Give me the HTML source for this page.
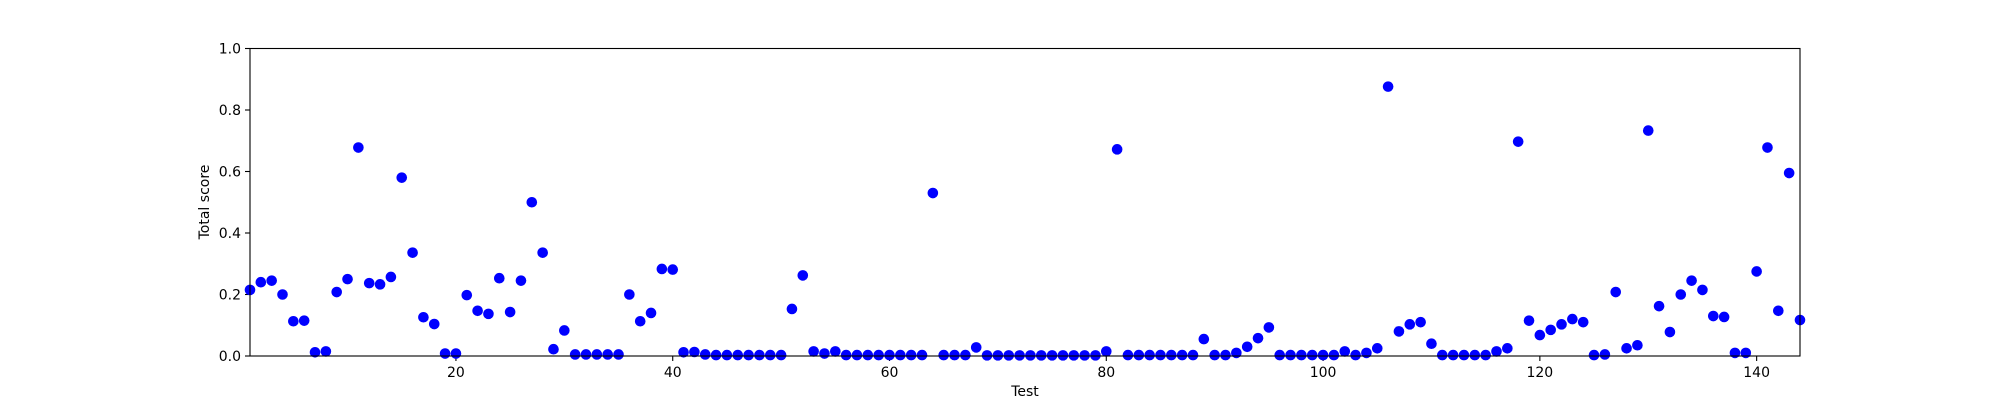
<!DOCTYPE html>
<html><head><meta charset="utf-8"><style>
body{margin:0;background:#fff}
svg{display:block;font-family:"DejaVu Sans","Liberation Sans",sans-serif}
</style></head><body>
<svg id="chart" width="2000" height="400" viewBox="0 0 2000 400">
<rect width="2000" height="400" fill="#fff"/>
<g id="ticks"></g>
<g id="points"></g>
<rect x="250" y="48.5" width="1550" height="307.5" fill="none" stroke="#000" stroke-width="1.1"/>
<text x="1025" y="396" font-size="14" text-anchor="middle">Test</text>
<text transform="translate(209,202) rotate(-90)" font-size="14" text-anchor="middle">Total score</text>
</svg>
<script>
const scores = [0.215,0.24,0.245,0.20,0.113,0.115,0.012,0.015,0.208,0.25,
0.678,0.237,0.233,0.257,0.58,0.336,0.126,0.104,0.008,0.008,
0.198,0.147,0.137,0.253,0.143,0.245,0.5,0.336,0.022,0.083,
0.005,0.005,0.005,0.005,0.005,0.2,0.113,0.14,0.283,0.281,
0.012,0.013,0.005,0.003,0.003,0.003,0.003,0.003,0.003,0.003,
0.153,0.262,0.015,0.008,0.015,0.003,0.003,0.003,0.003,0.003,
0.003,0.003,0.003,0.53,0.003,0.003,0.003,0.028,0.002,0.002,
0.002,0.002,0.002,0.002,0.002,0.002,0.002,0.002,0.002,0.015,
0.672,0.003,0.003,0.003,0.003,0.003,0.003,0.003,0.055,0.003,
0.003,0.01,0.03,0.058,0.093,0.003,0.003,0.003,0.003,0.003,
0.003,0.015,0.003,0.01,0.025,0.876,0.08,0.103,0.11,0.04,
0.003,0.003,0.003,0.003,0.003,0.015,0.025,0.697,0.115,0.068,
0.085,0.103,0.12,0.11,0.003,0.005,0.208,0.025,0.035,0.733,
0.162,0.078,0.2,0.245,0.215,0.13,0.127,0.01,0.01,0.275,
0.678,0.147,0.595,0.117];
const xTicks = [20,40,60,80,100,120,140];
const yTicks = [0,0.2,0.4,0.6,0.8,1.0];
const xMin = 1, xMax = 144;
const X0=250, X1=1800, Y0=356, Y1=48.5;
const sx = v => X0 + (v - xMin) / (xMax - xMin) * (X1 - X0);
const sy = v => Y0 - v * (Y0 - Y1);
const NS = "http://www.w3.org/2000/svg";
const tg = document.getElementById('ticks');
const pg = document.getElementById('points');
function mk(tag, attrs, parent){const e=document.createElementNS(NS,tag);for(const k in attrs)e.setAttribute(k,attrs[k]);parent.appendChild(e);return e;}
xTicks.forEach(t=>{
  const x=sx(t);
  const l=mk('line',{x1:x,x2:x,y1:Y0,y2:Y0+5,stroke:'#000','stroke-width':1.1},tg);
  
  
  const tx=mk('text',{x:x,y:Y0+21,'font-size':14,'text-anchor':'middle'},tg);
  tx.textContent=String(t);
  
  
});
yTicks.forEach(t=>{
  const y=sy(t);
  const l=mk('line',{x1:X0-5,x2:X0,y1:y,y2:y,stroke:'#000','stroke-width':1.1},tg);
  
  
  const tx=mk('text',{x:X0-9,y:y+5,'font-size':14,'text-anchor':'end'},tg);
  tx.textContent=t.toFixed(1);
  
  
});
scores.forEach((v,i)=>{
  const c=mk('circle',{cx:sx(i+1),cy:sy(v),r:5.3,fill:'#0000ff'},pg);
  
  
});
</script>
</body></html>
